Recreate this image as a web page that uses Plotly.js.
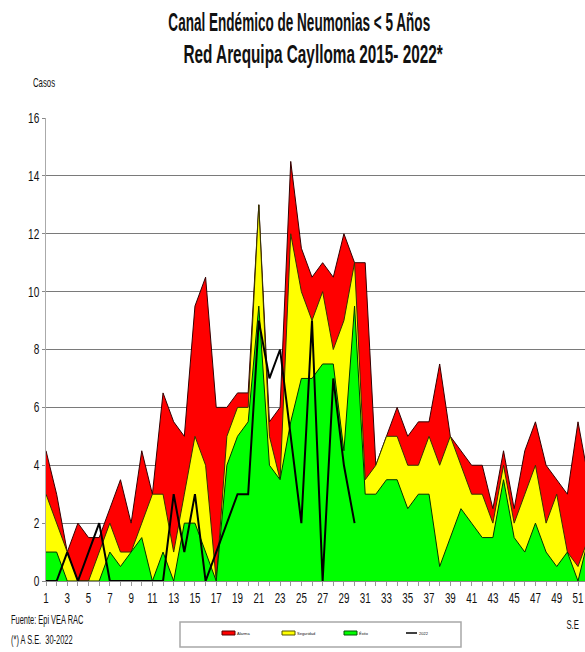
<!DOCTYPE html>
<html><head><meta charset="utf-8">
<script src="https://cdn.plot.ly/plotly-3.0.1.min.js"></script>
<style>html,body{margin:0;padding:0;background:#fff;overflow:hidden}#chart{width:585px;height:652px}</style>
</head><body><div id="chart"></div>
<script>
const weeks = [1,2,3,4,5,6,7,8,9,10,11,12,13,14,15,16,17,18,19,20,21,22,23,24,25,26,27,28,29,30,31,32,33,34,35,36,37,38,39,40,41,42,43,44,45,46,47,48,49,50,51,52];
const alarma = [4.5,3,1,2,1.5,1.5,2.5,3.5,2,4.5,3,6.5,5.5,5,9.5,10.5,6,6,6.5,6.5,13,5.5,6,14.5,11.5,10.5,11,10.5,12,11,11,4,5,6,5,5.5,5.5,7.5,5,4.5,4,4,2.5,4.5,2.5,4.5,5.5,4,3.5,3,5.5,3.5];
const seguridad = [3,2,1,0,0,1,2,1,1,2,3,3,1,3,5,4,0,5,6,6,13,5,3.5,12,10,9,10,8,9,11,3.5,4,5,5,4,4,5,4,5,4,3,3,2,4,2,3,4,2,3,1,0.5,1.5];
const exito = [1,1,0,0,0,0,1,0.5,1,1.5,0,1,0,2,2,1,0,4,5,5.5,9.5,4,3.5,5.5,7,7,7.5,7.5,4.5,9.5,3,3,3.5,3.5,2.5,3,3,0.5,1.5,2.5,2,1.5,1.5,3.5,1.5,1,2,1,0.5,1,0,1.5];
const weeks2022 = [1,2,3,4,5,6,7,8,9,10,11,12,13,14,15,16,17,18,19,20,21,22,23,24,25,26,27,28,29,30];
const casos2022 = [0,0,1,0,1,2,0,0,0,0,0,0,3,1,3,0,1,2,3,3,9,7,8,5,2,9,0,7,4,2];
const xTickText = ['1','','3','','5','','7','','9','','11','','13','','15','','17','','19','','21','','23','','25','','27','','29','','31','','33','','35','','37','','39','','41','','43','','45','','47','','49','','51',''];
const yTickVals = [0,2,4,6,8,10,12,14,16];
const seriesNames = ['Alarma','Seguridad','Éxito','2022'];
const titleLine1 = 'Canal Endémico de Neumonias &lt; 5 Años';
const titleLine2 = 'Red Arequipa Caylloma 2015- 2022*';

const FONT = '"Liberation Sans",Arial,sans-serif';
const L = 46, R = 585, T = 118, B = 581;
const px = v => (v - L) / (R - L);
const py = v => (B - v) / (B - T);

const traces = [
  {x: weeks, y: alarma, name: seriesNames[0], type: 'scatter', mode: 'lines', fill: 'tozeroy', fillcolor: '#FF0000', line: {color: '#330000', width: 1}},
  {x: weeks, y: seguridad, name: seriesNames[1], type: 'scatter', mode: 'lines', fill: 'tozeroy', fillcolor: '#FFFF00', line: {color: '#333300', width: 1}},
  {x: weeks, y: exito, name: seriesNames[2], type: 'scatter', mode: 'lines', fill: 'tozeroy', fillcolor: '#00FF00', line: {color: '#003300', width: 1}},
  {x: weeks2022, y: casos2022, name: seriesNames[3], type: 'scatter', mode: 'lines', line: {color: '#000000', width: 2}}
];

const shapes = [
  {type: 'rect', xref: 'paper', yref: 'paper', x0: px(180), x1: px(461), y0: py(622), y1: py(647), line: {color: '#a8a8a8', width: 1.5}, fillcolor: 'rgba(0,0,0,0)'},
  {type: 'rect', xref: 'paper', yref: 'paper', x0: px(222), x1: px(235), y0: py(631), y1: py(635), line: {color: '#550000', width: 1}, fillcolor: '#FF0000'},
  {type: 'rect', xref: 'paper', yref: 'paper', x0: px(282), x1: px(295), y0: py(631), y1: py(635), line: {color: '#555500', width: 1}, fillcolor: '#FFFF00'},
  {type: 'rect', xref: 'paper', yref: 'paper', x0: px(344), x1: px(357), y0: py(631), y1: py(635), line: {color: '#005500', width: 1}, fillcolor: '#00FF00'},
  {type: 'line', xref: 'paper', yref: 'paper', x0: px(406), x1: px(417), y0: py(633), y1: py(633), line: {color: '#000', width: 1.5}}
];

const ann = (text, x, y, size, xanchor) => ({text, xref: 'paper', yref: 'paper', x: px(x), y: py(y), xanchor, yanchor: 'middle', showarrow: false, borderpad: 0, font: {family: FONT, size, color: '#111'}});

const annotations = [
  ann('<b>' + titleLine1 + '</b>', 299, 22, 26, 'center'),
  ann('<b>' + titleLine2 + '</b>', 313, 54, 26, 'center'),
  ann('Casos', 44, 82.5, 12, 'center'),
  ann('Fuente: Epi VEA RAC', 10, 620, 12, 'left'),
  ann('(*) A S.E.  30-2022', 10, 640, 12, 'left'),
  ann('S.E', 572, 625, 12, 'center'),
  ann(seriesNames[0], 236, 633, 4, 'left'),
  ann(seriesNames[1], 296, 633, 4, 'left'),
  ann(seriesNames[2], 358, 633, 4, 'left'),
  ann(seriesNames[3], 418, 633, 4, 'left')
];

const layout = {
  width: 585, height: 652,
  margin: {l: L, r: 0, t: T, b: 652 - B, pad: 0},
  paper_bgcolor: '#fff', plot_bgcolor: '#fff',
  showlegend: false,
  xaxis: {range: [1, 1 + (R - L) / 10.64], tickmode: 'array', tickvals: weeks, ticktext: xTickText,
    ticks: 'outside', ticklen: 4, tickcolor: '#999', tickwidth: 1, showgrid: false, zeroline: false,
    showline: true, linecolor: '#888', linewidth: 1, ticklabeloverflow: 'allow',
    tickfont: {family: FONT, size: 14, color: '#111'}},
  yaxis: {range: [0, 16], tickmode: 'array', tickvals: yTickVals, ticks: 'outside', ticklen: 3, tickcolor: '#888',
    showgrid: true, gridcolor: '#7a7a7a', gridwidth: 1.2, zeroline: false, showline: true, linecolor: '#aaa', linewidth: 1,
    tickfont: {family: FONT, size: 14, color: '#111'}},
  shapes, annotations
};

// horizontal squeeze of rendered text (the reference uses a narrow face)
function squeeze(el, s, anchor) {
  const bb = el.getBBox();
  const cx = anchor === 'left' ? bb.x : anchor === 'right' ? bb.x + bb.width : bb.x + bb.width / 2;
  const prev = el.getAttribute('transform') || '';
  el.setAttribute('transform', prev + ` translate(${cx},0) scale(${s},1) translate(${-cx},0)`);
}

Plotly.newPlot('chart', traces, layout, {displayModeBar: false, staticPlot: true}).then(gd => {
  gd.querySelectorAll('.ytick text').forEach(t => squeeze(t, 0.72, 'right'));
  gd.querySelectorAll('.xtick text').forEach(t => squeeze(t, 0.7, 'center'));
  const targets = {};
  targets['Canal Endémico de Neumonias < 5 Años'] = 262;
  targets[titleLine2] = 260;
  gd.querySelectorAll('.annotation-text').forEach(t => {
    const txt = t.textContent;
    if (targets[txt]) {
      squeeze(t, targets[txt] / t.getBBox().width, 'center');
    } else if (txt === 'Fuente: Epi VEA RAC' || txt.indexOf('(*)') === 0) {
      squeeze(t, 0.62, 'left');
    } else if (txt === 'Casos' || txt === 'S.E') {
      squeeze(t, 0.65, 'center');
    }
  });
});
</script>
</body></html>
